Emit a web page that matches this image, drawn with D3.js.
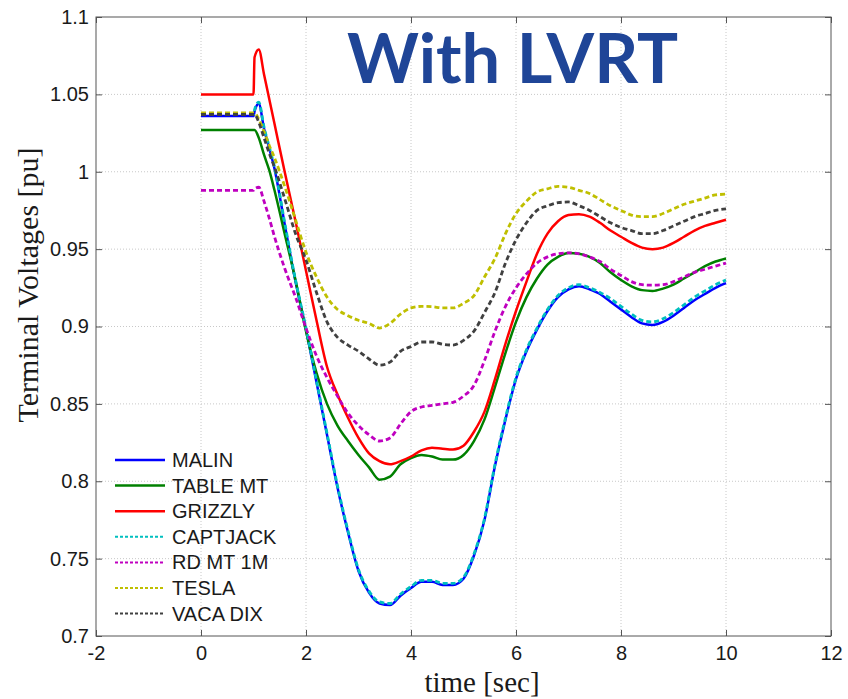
<!DOCTYPE html>
<html><head><meta charset="utf-8">
<script src="https://cdn.jsdelivr.net/npm/d3@7/dist/d3.min.js"></script>
<style>html,body{margin:0;padding:0;background:#fff;}svg{display:block;}</style>
</head><body>
<svg id="chart" width="848" height="699"></svg>
<script>
// ---- data ----
const time = [0, 1.0, 1.02, 1.1, 1.2, 1.3, 1.4, 1.6, 1.8, 2.0, 2.2, 2.4, 2.6, 2.8, 3.0, 3.2, 3.4, 3.6, 3.8, 4.0, 4.2, 4.4, 4.6, 4.8, 5.0, 5.2, 5.4, 5.6, 5.8, 6.0, 6.2, 6.4, 6.6, 6.8, 7.0, 7.2, 7.4, 7.6, 7.8, 8.0, 8.2, 8.4, 8.6, 8.8, 9.0, 9.2, 9.4, 9.6, 9.8, 10.0];
const seriesNames = ["MALIN", "TABLE MT", "GRIZZLY", "CAPTJACK", "RD MT 1M", "TESLA", "VACA DIX"];
const malin = [1.036, 1.036, 1.039, 1.044, 1.028, 1.015, 1.002, 0.965, 0.929, 0.898, 0.864, 0.830, 0.796, 0.767, 0.742, 0.728, 0.721, 0.720, 0.726, 0.731, 0.735, 0.735, 0.733, 0.733, 0.737, 0.752, 0.775, 0.810, 0.840, 0.866, 0.884, 0.898, 0.910, 0.919, 0.924, 0.926, 0.924, 0.921, 0.916, 0.911, 0.906, 0.902, 0.901, 0.903, 0.907, 0.912, 0.917, 0.921, 0.925, 0.928];
const tableMt = [1.027, 1.027, 1.027, 1.022, 1.011, 1.001, 0.988, 0.959, 0.930, 0.897, 0.870, 0.850, 0.836, 0.826, 0.817, 0.809, 0.801, 0.803, 0.811, 0.815, 0.817, 0.816, 0.814, 0.814, 0.817, 0.826, 0.840, 0.861, 0.883, 0.903, 0.919, 0.931, 0.940, 0.945, 0.9475, 0.947, 0.945, 0.941, 0.935, 0.930, 0.926, 0.9235, 0.923, 0.9245, 0.927, 0.931, 0.935, 0.939, 0.942, 0.944];
const grizzly = [1.050, 1.050, 1.074, 1.079, 1.063, 1.047, 1.031, 0.999, 0.968, 0.936, 0.904, 0.874, 0.856, 0.841, 0.828, 0.818, 0.813, 0.811, 0.813, 0.816, 0.820, 0.8217, 0.821, 0.8205, 0.823, 0.832, 0.845, 0.866, 0.889, 0.910, 0.929, 0.947, 0.960, 0.968, 0.972, 0.9726, 0.971, 0.967, 0.962, 0.958, 0.954, 0.951, 0.950, 0.951, 0.954, 0.958, 0.962, 0.965, 0.967, 0.969];
const captjack = [1.037, 1.037, 1.040, 1.045, 1.029, 1.016, 1.003, 0.966, 0.930, 0.899, 0.865, 0.831, 0.797, 0.768, 0.743, 0.729, 0.722, 0.721, 0.727, 0.732, 0.736, 0.736, 0.734, 0.734, 0.738, 0.753, 0.776, 0.811, 0.841, 0.867, 0.885, 0.899, 0.911, 0.920, 0.925, 0.927, 0.925, 0.922, 0.918, 0.913, 0.908, 0.904, 0.903, 0.905, 0.909, 0.914, 0.919, 0.923, 0.927, 0.930];
const rdMt1m = [0.988, 0.988, 0.989, 0.990, 0.981, 0.970, 0.958, 0.937, 0.919, 0.899, 0.881, 0.867, 0.855, 0.844, 0.836, 0.830, 0.826, 0.828, 0.837, 0.845, 0.848, 0.849, 0.850, 0.851, 0.855, 0.862, 0.878, 0.897, 0.913, 0.925, 0.934, 0.941, 0.945, 0.947, 0.9476, 0.947, 0.945, 0.942, 0.937, 0.933, 0.929, 0.927, 0.9267, 0.927, 0.929, 0.932, 0.935, 0.937, 0.939, 0.941];
const tesla = [1.038, 1.038, 1.038, 1.034, 1.026, 1.017, 1.009, 0.990, 0.969, 0.948, 0.932, 0.919, 0.911, 0.907, 0.904, 0.902, 0.899, 0.902, 0.908, 0.912, 0.913, 0.9128, 0.912, 0.912, 0.915, 0.920, 0.932, 0.944, 0.960, 0.973, 0.981, 0.987, 0.989, 0.9905, 0.990, 0.988, 0.986, 0.982, 0.978, 0.975, 0.972, 0.971, 0.971, 0.973, 0.976, 0.979, 0.981, 0.983, 0.985, 0.9855];
const vacaDix = [1.037, 1.037, 1.037, 1.032, 1.022, 1.012, 1.003, 0.982, 0.960, 0.943, 0.922, 0.903, 0.893, 0.888, 0.884, 0.879, 0.875, 0.877, 0.884, 0.887, 0.890, 0.890, 0.8885, 0.888, 0.891, 0.897, 0.909, 0.922, 0.941, 0.956, 0.967, 0.975, 0.978, 0.980, 0.9805, 0.978, 0.975, 0.971, 0.967, 0.964, 0.962, 0.960, 0.960, 0.962, 0.965, 0.968, 0.971, 0.973, 0.975, 0.976];
const xTicks = [-2, 0, 2, 4, 6, 8, 10, 12];
const yTicks = [0.7, 0.75, 0.8, 0.85, 0.9, 0.95, 1, 1.05, 1.1];
const titleText = "With LVRT";
const xLabel = "time [sec]";
const yLabel = "Terminal Voltages [pu]";

// ---- styles ----
const seriesValues = [malin, tableMt, grizzly, captjack, rdMt1m, tesla, vacaDix];
const colors = ["#0000ff", "#008000", "#ff0000", "#00bfbf", "#bf00bf", "#bfbf00", "#404040"];
const dashed = [false, false, false, true, true, true, true];

const svg = d3.select("#chart");
const L = 96, R = 831, T = 17, B = 636;
const x = d3.scaleLinear().domain([-2, 12]).range([L, R]);
const y = d3.scaleLinear().domain([0.7, 1.1]).range([B, T]);

// grid
const grid = svg.append("g");
grid.selectAll(".vg").data(xTicks.slice(1, -1)).join("line")
  .attr("x1", d => x(d)).attr("x2", d => x(d)).attr("y1", T).attr("y2", B)
  .attr("stroke", "#c8c8c8").attr("stroke-width", 1).attr("stroke-dasharray", "1,2");
grid.selectAll(".hg").data(yTicks.slice(1, -1)).join("line")
  .attr("y1", d => y(d)).attr("y2", d => y(d)).attr("x1", L).attr("x2", R)
  .attr("stroke", "#c8c8c8").attr("stroke-width", 1).attr("stroke-dasharray", "1,2");

// axes
const fontSans = "'Liberation Sans', Arial, sans-serif";
const xAxis = d3.axisBottom(x).tickValues(xTicks).tickSize(-6).tickPadding(10).tickFormat(d => String(d));
const yAxis = d3.axisLeft(y).tickValues(yTicks).tickSize(-6).tickPadding(7).tickFormat(d => String(d));
const gx = svg.append("g").attr("transform", `translate(0,${B})`).call(xAxis);
const gy = svg.append("g").attr("transform", `translate(${L},0)`).call(yAxis);
const gxTop = svg.append("g").attr("transform", `translate(0,${T})`).call(d3.axisTop(x).tickValues(xTicks).tickSize(-6).tickFormat(""));
const gyRight = svg.append("g").attr("transform", `translate(${R},0)`).call(d3.axisRight(y).tickValues(yTicks).tickSize(-6).tickFormat(""));
[gx, gy, gxTop, gyRight].forEach(g => {
  g.select(".domain").remove();
  g.selectAll("line").attr("stroke", "#555");
  g.selectAll("text").attr("fill", "#1a1a1a").style("font-family", fontSans).style("font-size", "20px");
});
svg.append("rect").attr("x", L).attr("y", T).attr("width", R - L).attr("height", B - T)
  .attr("fill", "none").attr("stroke", "#555").attr("stroke-width", 1);

// lines
const line = d3.line().x((d, i) => x(time[i])).y(d => y(d)).curve(d3.curveMonotoneX);
const lg = svg.append("g");
seriesValues.forEach((vals, k) => {
  lg.append("path").datum(vals).attr("d", line)
    .attr("fill", "none").attr("stroke", colors[k])
    .attr("stroke-width", dashed[k] ? 2.8 : 2.5)
    .attr("stroke-dasharray", dashed[k] ? "5,3" : null)
    .attr("stroke-linejoin", "round");
});

// legend
const leg = svg.append("g");
seriesNames.forEach((name, k) => {
  const yy = 460 + k * 25.6;
  leg.append("line").attr("x1", 115).attr("x2", 165).attr("y1", yy).attr("y2", yy)
    .attr("stroke", colors[k]).attr("stroke-width", dashed[k] ? 2 : 2.5)
    .attr("stroke-dasharray", dashed[k] ? "3,2" : null);
  leg.append("text").attr("x", 172).attr("y", yy + 7).text(name)
    .style("font-family", fontSans).style("font-size", "20px").attr("fill", "#1a1a1a");
});

// labels
svg.append("text").attr("x", 482).attr("y", 692).attr("text-anchor", "middle")
  .style("font-family", "'Liberation Serif', 'DejaVu Serif', serif").style("font-size", "29px")
  .attr("fill", "#1a1a1a").text(xLabel);
svg.append("text").attr("transform", "translate(38,285) rotate(-90)").attr("text-anchor", "middle")
  .style("font-family", "'Liberation Serif', 'DejaVu Serif', serif").style("font-size", "30px")
  .attr("fill", "#1a1a1a").text(yLabel);

// title
svg.append("text").attr("x", 347).attr("y", 83)
  .attr("textLength", 331).attr("lengthAdjust", "spacingAndGlyphs")
  .style("font-family", "Lato, 'Open Sans', sans-serif").style("font-weight", "700").style("font-size", "68px")
  .attr("fill", "#1f4597").text(titleText);
</script>
</body></html>
